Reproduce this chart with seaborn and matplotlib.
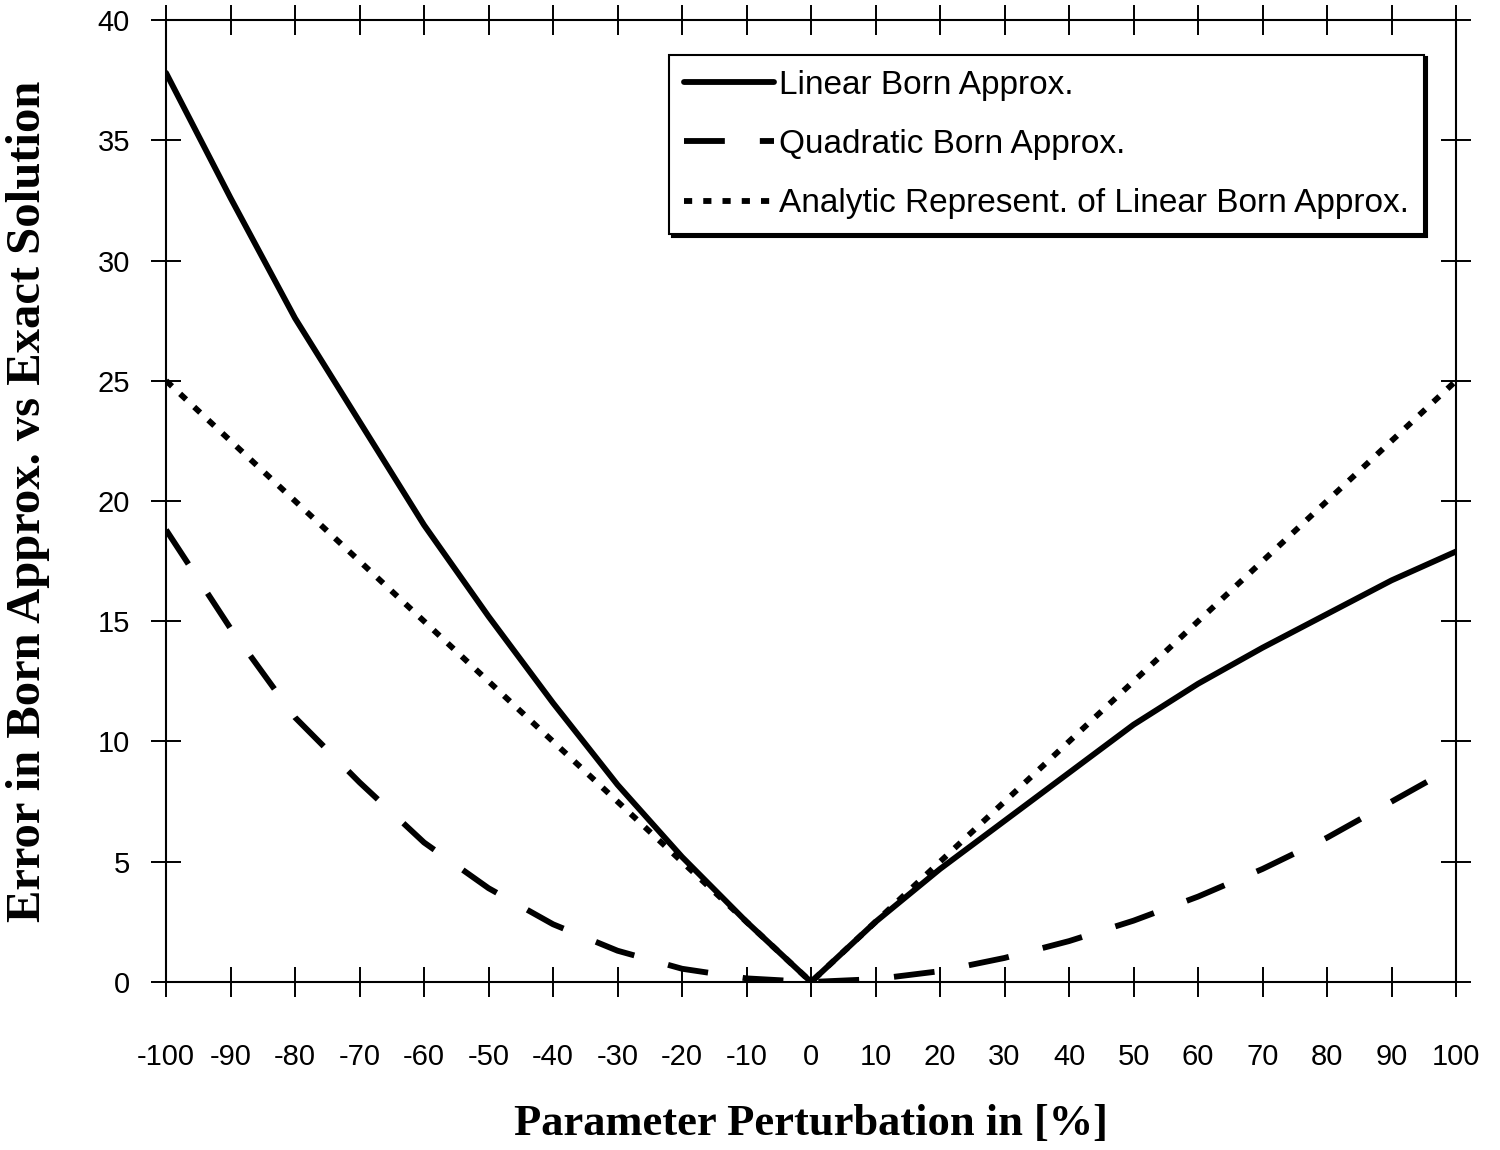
import seaborn as sns
import pandas as pd
import numpy as np
import matplotlib.pyplot as plt

# values
perturbation = list(range(-100, 101, 10))
linear_born = [37.8, 32.6, 27.6, 23.3, 19.0, 15.2, 11.6, 8.2, 5.2, 2.5, 0,
               2.5, 4.7, 6.7, 8.7, 10.7, 12.4, 13.9, 15.3, 16.7, 17.9]
quadratic_born = [18.8, 14.7, 11.0, 8.3, 5.8, 3.9, 2.4, 1.3, 0.55, 0.15, 0,
                  0.12, 0.45, 1.0, 1.7, 2.55, 3.55, 4.7, 6.0, 7.5, 9.0]
analytic_linear = [25, 22.5, 20, 17.5, 15, 12.5, 10, 7.5, 5, 2.5, 0,
                   2.5, 5, 7.5, 10, 12.5, 15, 17.5, 20, 22.5, 25]
series_names = ['Linear Born Approx.', 'Quadratic Born Approx.',
                'Analytic Represent. of Linear Born Approx.']

df = pd.DataFrame({
    'x': perturbation * 3,
    'y': linear_born + quadratic_born + analytic_linear,
    'series': [s for s in series_names for _ in perturbation],
})

sns.set_style('ticks', {'text.color': 'black', 'axes.labelcolor': 'black',
                        'xtick.color': 'black', 'ytick.color': 'black'})
plt.rcParams['font.family'] = ['Liberation Sans', 'DejaVu Sans']
plt.rcParams['axes.unicode_minus'] = False

fig = plt.figure(figsize=(15, 11.5), dpi=100)
ax = fig.add_axes([0.1107, 0.1461, 0.86, 0.8365])

dash_map = {series_names[0]: '', series_names[1]: (7, 6), series_names[2]: (1.4, 1.9)}
sns.lineplot(data=df, x='x', y='y', style='series', dashes=dash_map,
             color='black', linewidth=4.2, legend=False, ax=ax)
for line in ax.get_lines():
    line.set_dash_capstyle('butt')
    line.set_solid_joinstyle('round')

ax.set_xlim(-100, 100)
ax.set_ylim(0, 40)
ax.set_xticks(perturbation)
ax.set_yticks(range(0, 41, 5))
for sp in ax.spines.values():
    sp.set_linewidth(1.5)
    sp.set_color('black')
ax.tick_params(direction='inout', length=22, width=1.4, top=True, right=True,
               labelsize=21, colors='black')
ax.tick_params(axis='x', pad=33)
ax.tick_params(axis='y', pad=15)

ax.set_xlabel('Parameter Perturbation in [%]', fontsize=32, fontweight='bold',
              family='Liberation Serif', labelpad=24)
ax.set_ylabel('Error in Born Approx. vs Exact Solution', fontsize=35,
              fontweight='bold', family='Liberation Serif', labelpad=34)

leg = ax.legend(ax.get_lines(), series_names, loc='upper right',
                bbox_to_anchor=(0.975, 0.964), borderaxespad=0, fontsize=24,
                handlelength=2.7, handletextpad=0.15, labelspacing=0.85,
                borderpad=0.45, fancybox=False, frameon=True,
                shadow={'color': 'black', 'alpha': 1})
leg.get_frame().set_edgecolor('black')
leg.get_frame().set_linewidth(1.5)
leg.get_frame().set_alpha(1)

fig.savefig('out.png', dpi=100)
